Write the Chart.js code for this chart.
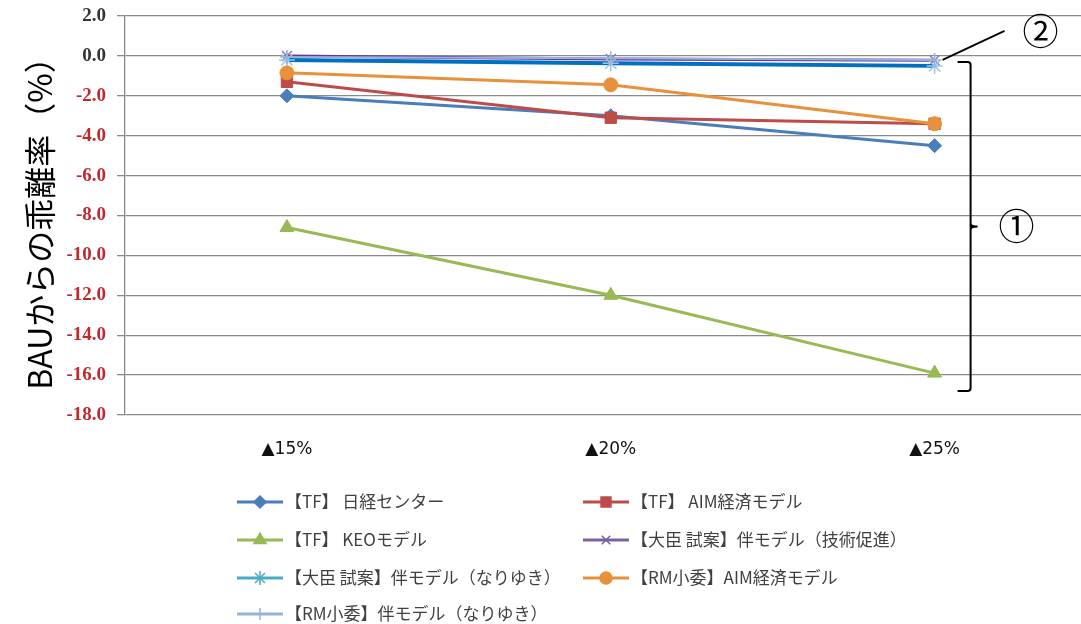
<!DOCTYPE html>
<html lang="ja">
<head>
<meta charset="UTF-8" />
<title>BAUからの乖離率</title>
<script src="https://cdn.jsdelivr.net/npm/chart.js"></script>
<style>
  html, body { margin: 0; padding: 0; background: #fff; overflow: hidden; }
  #wrap { width: 1106px; height: 624px; }
</style>
</head>
<body>
<div id="wrap"><canvas id="chart" width="1106" height="624"></canvas></div>
<script>
// 削減ケース
const categories = ['▲15%', '▲20%', '▲25%'];

// 各モデルの BAU からの乖離率 (%)
const nikkeiTF   = [-2.0, -3.0, -4.5];
const aimTF      = [-1.3, -3.1, -3.4];
const keoTF      = [-8.6, -12.0, -15.9];
const banTech    = [0.0, -0.15, -0.22];
const banBAU     = [-0.2, -0.37, -0.5];
const aimRM      = [-0.85, -1.45, -3.4];
const banRM      = [-0.05, -0.12, -0.2];

const seriesNames = [
  '【TF】 日経センター',
  '【TF】 AIM経済モデル',
  '【TF】 KEOモデル',
  '【大臣 試案】伴モデル（技術促進）',
  '【大臣 試案】伴モデル（なりゆき）',
  '【RM小委】AIM経済モデル',
  '【RM小委】伴モデル（なりゆき）'
];

const yTicks = [2, 0, -2, -4, -6, -8, -10, -12, -14, -16, -18];

function series(i, data, color, style, radius, extra) {
  return Object.assign({
    label: seriesNames[i],
    data: data,
    borderColor: color,
    backgroundColor: color,
    borderWidth: 3,
    pointStyle: style,
    pointRadius: radius,
    pointBorderWidth: 1,
    pointBackgroundColor: color,
    pointBorderColor: color,
    tension: 0,
    order: 10 - i
  }, extra || {});
}

const datasets = [
  series(0, nikkeiTF, '#4A7EBB', 'rectRot', 7),
  series(1, aimTF, '#BE4B48', 'rect', 8),
  series(2, keoTF, '#98B954', 'triangle', 8),
  series(3, banTech, '#7030A0', 'crossRot', 7, { pointBorderColor: '#8F7BB0', pointBorderWidth: 1.5, legendColor: '#7D60A0' }),
  series(4, banBAU, '#0070C0', 'star', 8, { borderWidth: 4, pointBorderColor: '#9DC3E6', pointBorderWidth: 1.5, legendColor: '#4BACC6' }),
  series(5, aimRM, '#E8913C', 'circle', 7),
  series(6, banRM, '#95B3D7', 'cross', 7, { borderWidth: 2, pointBorderWidth: 1.5 })
];

// 凡例の配置 (列, 行)
const legendSlots = [[0, 0], [1, 0], [0, 1], [1, 1], [0, 2], [1, 2], [0, 3]];

function marker(ctx, style, radius, x, y, fill, stroke) {
  ctx.save();
  ctx.fillStyle = fill;
  ctx.strokeStyle = stroke;
  ctx.lineWidth = 1.5;
  if (Chart.helpers && Chart.helpers.drawPoint) {
    Chart.helpers.drawPoint(ctx, { pointStyle: style, radius: radius, borderWidth: 1.5, rotation: 0 }, x, y);
  } else {
    ctx.beginPath();
    ctx.arc(x, y, radius, 0, Math.PI * 2);
    ctx.fill();
  }
  ctx.restore();
}

const overlay = {
  id: 'overlay',
  afterDraw(chart) {
    const ctx = chart.ctx;
    const xs = chart.scales.x;
    const ys = chart.scales.y;

    // 凡例
    const colX = [237, 583];
    const rowY = [502, 540, 578, 614];
    ctx.save();
    ctx.font = '17px "Noto Sans CJK JP"';
    ctx.textBaseline = 'middle';
    chart.data.datasets.forEach((ds, i) => {
      const [c, r] = legendSlots[i];
      const x0 = colX[c], y0 = rowY[r];
      const col = ds.legendColor || ds.borderColor;
      ctx.strokeStyle = col;
      ctx.lineWidth = 3;
      ctx.beginPath();
      ctx.moveTo(x0, y0);
      ctx.lineTo(x0 + 46, y0);
      ctx.stroke();
      marker(ctx, ds.pointStyle, ds.pointRadius - 1, x0 + 23, y0, col, col);
      ctx.fillStyle = '#404040';
      ctx.fillText(ds.label, x0 + 48, y0);
    });
    ctx.restore();

    // 括弧 ① : 25% 時点の全モデルの幅
    const bx = xs.getPixelForValue(2) + 36;
    const top = ys.getPixelForValue(-0.3);
    const bot = ys.getPixelForValue(-16.8);
    const mid = (top + bot) / 2;
    ctx.save();
    ctx.strokeStyle = '#000';
    ctx.lineWidth = 2;
    ctx.beginPath();
    ctx.moveTo(bx - 13, top);
    ctx.lineTo(bx - 3, top);
    ctx.quadraticCurveTo(bx, top, bx, top + 3);
    ctx.lineTo(bx, bot - 3);
    ctx.quadraticCurveTo(bx, bot, bx - 3, bot);
    ctx.lineTo(bx - 13, bot);
    ctx.moveTo(bx, mid - 3);
    ctx.quadraticCurveTo(bx, mid, bx + 7, mid);
    ctx.moveTo(bx, mid + 3);
    ctx.quadraticCurveTo(bx, mid, bx + 7, mid);
    ctx.stroke();

    // ② の引き出し線 : 伴モデル 25% 付近
    const px = xs.getPixelForValue(2) + 8;
    const py = ys.getPixelForValue(-0.2);
    ctx.lineWidth = 1.8;
    ctx.beginPath();
    ctx.moveTo(px, py);
    ctx.lineTo(px + 62, py - 29);
    ctx.stroke();

    ctx.fillStyle = '#000';
    ctx.font = '36px "Noto Sans CJK JP"';
    ctx.textAlign = 'center';
    ctx.textBaseline = 'middle';
    ctx.fillText('①', bx + 46, mid);
    ctx.fillText('②', px + 98, py - 29);
    ctx.restore();
  }
};

new Chart(document.getElementById('chart'), {
  type: 'line',
  data: { labels: categories, datasets: datasets },
  options: {
    responsive: false,
    animation: false,
    layout: { padding: { top: 16, right: 3, bottom: 0, left: 0 } },
    plugins: {
      legend: { display: false },
      tooltip: { enabled: false }
    },
    scales: {
      x: {
        offset: true,
        grid: { display: false, drawTicks: false, offset: true },
        border: { display: false },
        ticks: {
          padding: 24,
          color: '#111',
          font: { family: '"DejaVu Sans"', size: 17 }
        },
        afterFit(scale) { scale.height = 209; }
      },
      y: {
        min: -18,
        max: 2,
        afterBuildTicks(scale) { scale.ticks = yTicks.map(v => ({ value: v })); },
        grid: { color: '#8a8a8a', lineWidth: 1.3, tickLength: 8 },
        border: { display: true, color: '#8a8a8a', width: 1.3 },
        ticks: {
          padding: 11,
          callback: v => Number(v).toFixed(1),
          color: ctx => ctx.tick.value < 0 ? '#C0282D' : '#333333',
          font: { family: '"Liberation Serif"', size: 19, weight: 'bold' }
        },
        title: {
          display: true,
          text: 'BAUからの乖離率（%）',
          color: '#000',
          font: { family: '"Noto Sans CJK JP"', size: 32 },
          padding: { top: 21, bottom: 0 }
        },
        afterFit(scale) {
          scale.width = 125;
          scale.paddingTop = 0;
          scale.paddingBottom = 0;
        }
      }
    }
  },
  plugins: [overlay]
});
</script>
</body>
</html>
